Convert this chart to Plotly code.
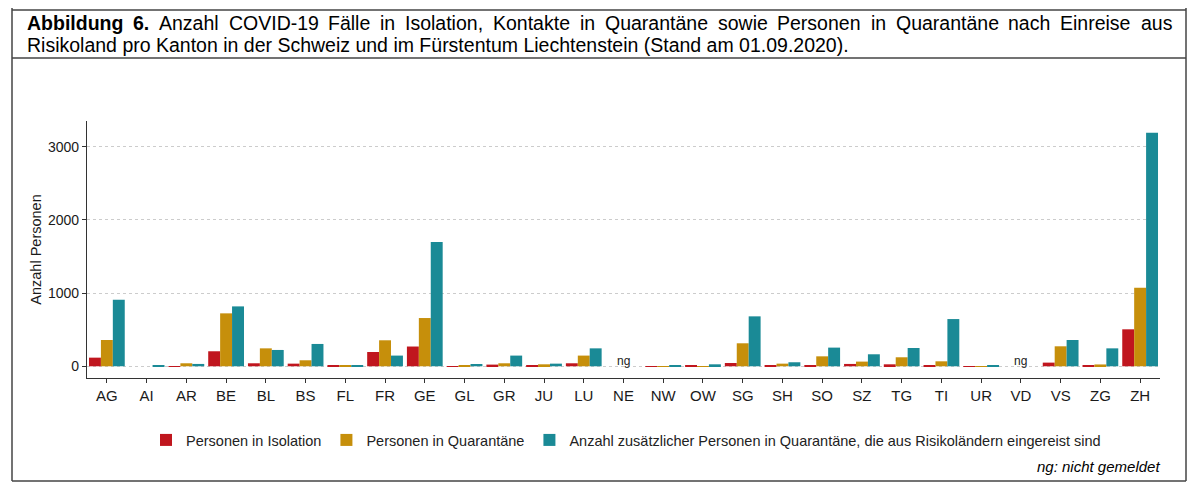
import plotly.graph_objects as go

# Daten, None = nicht gemeldet
kantone = ["AG", "AI", "AR", "BE", "BL", "BS", "FL", "FR", "GE", "GL", "GR", "JU", "LU", "NE",
           "NW", "OW", "SG", "SH", "SO", "SZ", "TG", "TI", "UR", "VD", "VS", "ZG", "ZH"]
isolation = [118, 0, 2, 205, 41, 36, 5, 195, 270, 3, 23, 5, 41, None,
             3, 10, 45, 5, 10, 32, 27, 18, 2, None, 50, 14, 505]
quarantaene = [359, 0, 41, 723, 245, 82, 10, 355, 659, 10, 41, 27, 146, None,
               3, 3, 314, 36, 136, 64, 123, 68, 3, None, 273, 25, 1073]
einreise = [909, 10, 32, 818, 223, 305, 12, 146, 1696, 31, 146, 36, 245, None,
            14, 27, 682, 55, 255, 164, 250, 645, 6, None, 359, 245, 3188]
nicht_gemeldet = ["NE", "VD"]
y_ticks = [0, 1000, 2000, 3000]

series = [
    ("Personen in Isolation", isolation, "#C0161E"),
    ("Personen in Quarantäne", quarantaene, "#C68F0B"),
    ("Anzahl zusätzlicher Personen in Quarantäne, die aus Risikoländern eingereist sind", einreise, "#1A8A96"),
]

title_line1 = "Abbildung 6. Anzahl COVID-19 Fälle in Isolation, Kontakte in Quarantäne sowie Personen in Quarantäne nach Einreise aus"
title_line2 = "Risikoland pro Kanton in der Schweiz und im Fürstentum Liechtenstein (Stand am 01.09.2020)."

W, H = 1200, 502
OFF = 8  # Seitenrand des Browsers
FONT = "Liberation Sans, Arial, sans-serif"


def px(x):
    return (x - OFF) / W


def py(y):
    return 1 - (y - OFF) / H


# Arial-Breiten (1/1000 em), um die erste Zeile im Blocksatz zu setzen
ARIAL = {" ": 278, "a": 556, "b": 556, "c": 500, "d": 556, "e": 556, "f": 278, "g": 556, "h": 556,
         "i": 222, "j": 222, "k": 500, "l": 222, "m": 833, "n": 556, "o": 556, "p": 556, "q": 556,
         "r": 333, "s": 500, "t": 278, "u": 556, "v": 500, "w": 722, "x": 500, "y": 500, "z": 500,
         "A": 667, "B": 667, "C": 722, "D": 722, "E": 667, "F": 611, "I": 278, "K": 667, "L": 556,
         "O": 778, "P": 667, "Q": 778, "R": 722, "S": 667, "V": 667, "ä": 556, "ü": 556,
         ".": 278, ",": 278, "-": 333, "(": 333, ")": 333}
ARIAL_BOLD = {"A": 722, "b": 611, "i": 278, "l": 278, "d": 611, "u": 611, "n": 611, "g": 611, ".": 278}


def text_width(s, size, bold=False):
    tab = ARIAL_BOLD if bold else ARIAL
    return sum(tab.get(c, ARIAL.get(c, 556)) for c in s) * size / 1000


fig = go.Figure()
for name, vals, col in series:
    fig.add_trace(go.Bar(x=kantone, y=vals, name=name, marker=dict(color=col, line=dict(width=0))))

annotations = []
for k in nicht_gemeldet:
    annotations.append(dict(x=k, y=0, xref="x", yref="y", text="ng", showarrow=False,
                            yshift=5, font=dict(size=12, color="#222", family=FONT)))

# Titel: Zeile 1 im Blocksatz
tsize = 19.5
x0, x1 = 26, 1171
words = title_line1.split(" ")
bold_words = {0, 1}
widths = [text_width(w, tsize, i in bold_words) for i, w in enumerate(words)]
gap = (x1 - x0 - sum(widths)) / (len(words) - 1)
xpos = x0
for i, w in enumerate(words):
    txt = "<b>%s</b>" % w if i in bold_words else w
    annotations.append(dict(x=px(xpos), y=py(23), xref="paper", yref="paper", text=txt,
                            showarrow=False, xanchor="left", yanchor="middle", borderpad=0,
                            font=dict(size=tsize, color="black", family=FONT)))
    xpos += widths[i] + gap
annotations.append(dict(x=px(x0), y=py(45), xref="paper", yref="paper", text=title_line2,
                        showarrow=False, xanchor="left", yanchor="middle", borderpad=0,
                        font=dict(size=tsize, color="black", family=FONT)))

annotations.append(dict(x=px(1162), y=py(466), xref="paper", yref="paper",
                        text="<i>ng: nicht gemeldet</i>", showarrow=False,
                        xanchor="right", yanchor="middle",
                        font=dict(size=15, color="black", family=FONT)))

# Rahmen
line = dict(color="#444", width=1.5)
shapes = [
    dict(type="line", xref="paper", yref="paper", x0=px(12), x1=px(12), y0=1.05, y1=py(481), line=line),
    dict(type="line", xref="paper", yref="paper", x0=px(1186), x1=px(1186), y0=1.05, y1=py(481), line=line),
    dict(type="line", xref="paper", yref="paper", x0=px(12), x1=px(1186), y0=py(10), y1=py(10), line=line),
    dict(type="line", xref="paper", yref="paper", x0=px(12), x1=px(1186), y0=py(58), y1=py(58), line=line),
    dict(type="line", xref="paper", yref="paper", x0=px(12), x1=px(1186), y0=py(481), y1=py(481), line=line),
]

fig.update_layout(
    width=W, height=H,
    margin=dict(l=0, r=0, t=0, b=0),
    paper_bgcolor="white", plot_bgcolor="white",
    barmode="group", bargap=0.1, bargroupgap=0,
    font=dict(family=FONT, color="#222"),
    xaxis=dict(domain=[px(87), px(1160)], showline=True, linecolor="#333", linewidth=1.3,
               ticks="outside", ticklen=4, tickcolor="#333", tickfont=dict(size=15, color="#1a1a1a"),
               showgrid=False, anchor="y"),
    yaxis=dict(domain=[py(378), py(121)], range=[-160, 3350], tickvals=y_ticks,
               showline=True, linecolor="#333", linewidth=1.3, ticks="outside", ticklen=4,
               tickcolor="#333", tickfont=dict(size=14, color="#1a1a1a"),
               showgrid=True, gridcolor="#cccccc", griddash="dot", gridwidth=1, zeroline=False,
               title=dict(text="Anzahl Personen", font=dict(size=14.5, color="#1a1a1a"), standoff=2)),
    legend=dict(orientation="h", x=px(626), xanchor="center", y=py(440), yanchor="middle",
                font=dict(size=14.5, color="#222", family=FONT), traceorder="normal"),
    annotations=annotations,
    shapes=shapes,
)

fig.write_html("out.html")
